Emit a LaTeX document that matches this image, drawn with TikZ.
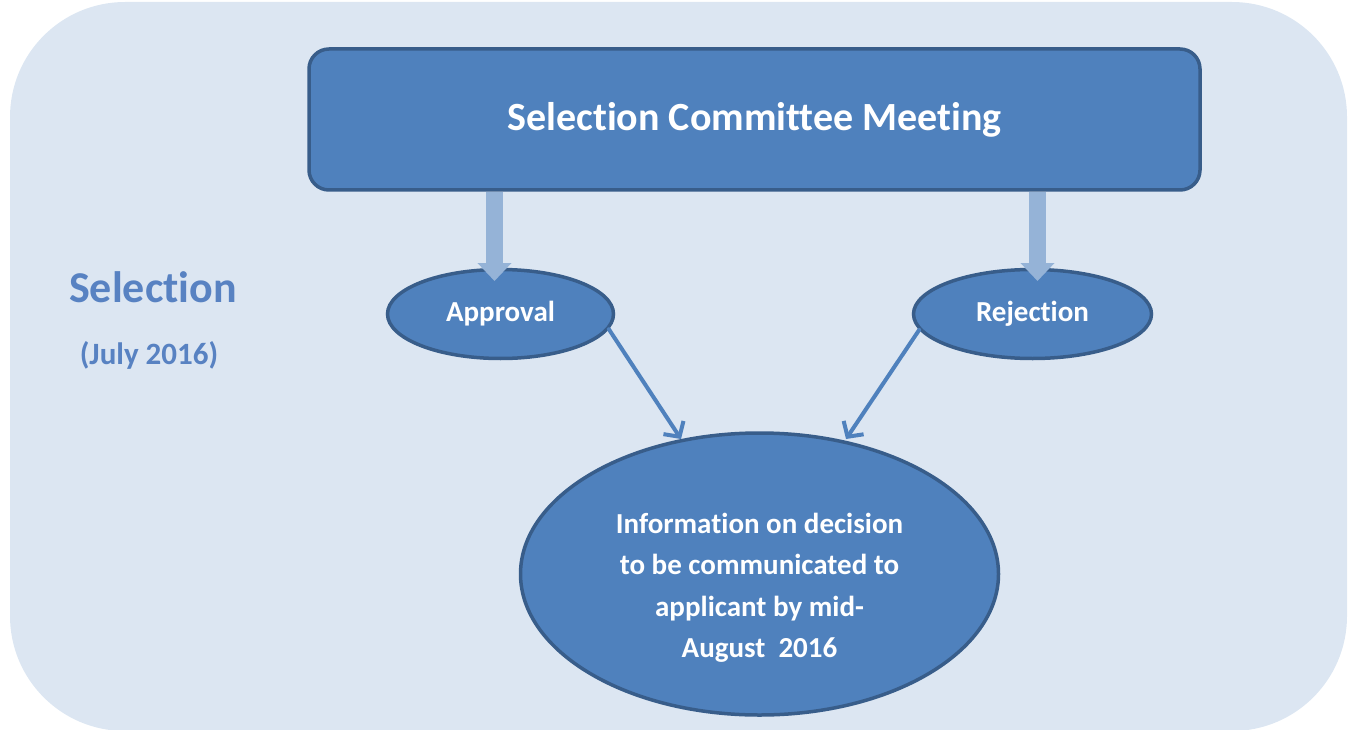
\documentclass[tikz,border=0pt]{standalone}
\usepackage{fontspec}
\setmainfont[Ligatures=NoCommon]{Carlito}
\usetikzlibrary{arrows.meta,shapes.geometric,calc}
\definecolor{bgblue}{HTML}{DCE6F2}
\definecolor{boxblue}{HTML}{4F81BD}
\definecolor{edgeblue}{HTML}{385D8A}
\definecolor{lightarr}{HTML}{95B3D7}
\definecolor{titleblue}{HTML}{5882C2}
\tikzset{
  mainbox/.style={draw=edgeblue, line width=3.5pt, fill=boxblue, rounded corners=20pt,
    minimum width=891pt, minimum height=141pt, inner sep=0pt, text=white,
    font=\bfseries\fontsize{40}{46}\selectfont},
  oval/.style={ellipse, draw=edgeblue, line width=3.5pt, fill=boxblue, inner sep=0pt,
    text=white, font=\bfseries\fontsize{29}{34}\selectfont},
  blockarrow/.style={lightarr, line width=17pt, -{Triangle[width=33pt,length=18pt]}},
  thinarrow/.style={boxblue, line width=4pt, line cap=round,
    -{Straight Barb[length=11pt,width=24pt,line width=4pt]}},
  sidetext/.style={text=titleblue}
}
\begin{document}
\begin{tikzpicture}[x=1pt,y=-1pt]
\useasboundingbox (0,0) rectangle (1351,730);
\fill[bgblue, rounded corners=115pt] (10,2) rectangle (1347,731);

\node[mainbox] (scm) at (754.5,119.5) {Selection Committee Meeting};
\node[oval, minimum width=226pt, minimum height=89pt] (appr) at (500.5,314) {Approval};
\node[oval, minimum width=238pt, minimum height=89pt] (rej) at (1032.5,314) {Rejection};
\node[oval, minimum width=478pt, minimum height=282pt] (info) at (759.5,574) {};
\node[align=center, text=white, font=\bfseries\fontsize{29}{41.5}\selectfont]
  (infotext) at ($(info.center)+(0,14)$)
  {Information on decision\\to be communicated to\\applicant by mid-\\August\ \ 2016};

\node[sidetext, font=\bfseries\fontsize{44}{50}\selectfont] (sel) at (153,287) {Selection};
\node[sidetext, font=\bfseries\fontsize{31}{36}\selectfont] (date) at (149,355) {(July 2016)};

\coordinate (at) at (494.5,281);
\coordinate (rt) at (1037.5,281);
\draw[blockarrow] (scm.south -| at) -- (at);
\draw[blockarrow] (scm.south -| rt) -- (rt);

\coordinate (ae) at (681,439);
\coordinate (re) at (846,439);
\draw[thinarrow] (appr.-8) -- (ae);
\draw[thinarrow] (rej.188) -- (re);
\end{tikzpicture}
\end{document}
